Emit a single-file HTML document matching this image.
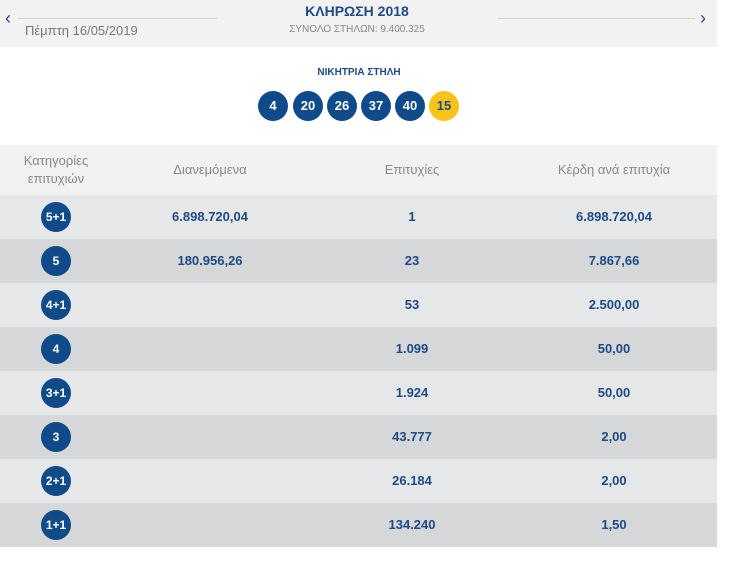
<!DOCTYPE html>
<html><head><meta charset="utf-8"><style>
body{margin:0;width:734px;height:578px;background:#fff;font-family:"Liberation Sans",sans-serif;position:relative;overflow:hidden}
.a{position:absolute}
.top{left:0;top:0;width:717px;height:47px;background:#f2f2f2}
.ln{height:1px;background:#d0d0d0;top:18px}
.c{transform:translateX(-50%);white-space:nowrap}
.ball{width:30px;height:30px;border-radius:50%;background:#0f4a89;color:#fff;font-weight:bold;font-size:13px;text-align:center;line-height:30px;top:91px}
.row{left:0;width:717px;height:44px}
.t{color:#1d4a85;font-weight:bold;font-size:13px;top:14px}
.h{color:#888;font-size:13px}
</style></head><body>
<div class="a top"></div>
<div class="a ln" style="left:18px;width:199px"></div>
<div class="a ln" style="left:498px;width:197px"></div>
<div class="a" style="left:5px;top:8px;color:#1d4a85;font-size:18px">‹</div>
<div class="a" style="left:700px;top:8px;color:#1d4a85;font-size:18px">›</div>
<div class="a" style="left:25px;top:23px;color:#777;font-size:13px">Πέμπτη 16/05/2019</div>
<div class="a c" style="left:357px;top:3px;color:#1d4a85;font-weight:bold;font-size:14px">ΚΛΗΡΩΣΗ 2018</div>
<div class="a c" style="left:357px;top:24px;color:#888;font-size:10px">ΣΥΝΟΛΟ ΣΤΗΛΩΝ: 9.400.325</div>
<div class="a c" style="left:359px;top:67px;color:#1d4a85;font-weight:bold;font-size:10px">ΝΙΚΗΤΡΙΑ ΣΤΗΛΗ</div>
<div class="a ball" style="left:258px">4</div>
<div class="a ball" style="left:293px">20</div>
<div class="a ball" style="left:327px">26</div>
<div class="a ball" style="left:361px">37</div>
<div class="a ball" style="left:395px">40</div>
<div class="a ball" style="left:429px;background:#f8c41c;color:#1d4a85">15</div>
<div class="a row" style="top:145px;height:50px;background:#f2f2f2"></div>
<div class="a c h" style="left:56px;top:152px;text-align:center;line-height:18px">Κατηγορίες<br>επιτυχιών</div>
<div class="a c h" style="left:210px;top:162px">Διανεμόμενα</div>
<div class="a c h" style="left:412px;top:162px">Επιτυχίες</div>
<div class="a c h" style="left:614px;top:162px">Κέρδη ανά επιτυχία</div>
<div id="rows"></div>
<script>
var d=[["5+1","6.898.720,04","1","6.898.720,04"],["5","180.956,26","23","7.867,66"],["4+1","","53","2.500,00"],["4","","1.099","50,00"],["3+1","","1.924","50,00"],["3","","43.777","2,00"],["2+1","","26.184","2,00"],["1+1","","134.240","1,50"]];
var h="";d.forEach(function(r,i){var y=195+i*44;
h+='<div class="a row" style="top:'+y+'px;background:'+(i%2?'#d6d7d9':'#e6e7e8')+'">'+
'<div class="a ball" style="left:41px;top:7px;font-size:12px">'+r[0]+'</div>'+
'<div class="a c t" style="left:210px">'+r[1]+'</div>'+
'<div class="a c t" style="left:412px">'+r[2]+'</div>'+
'<div class="a c t" style="left:614px">'+r[3]+'</div></div>';});
document.getElementById("rows").innerHTML=h;
</script>
</body></html>
